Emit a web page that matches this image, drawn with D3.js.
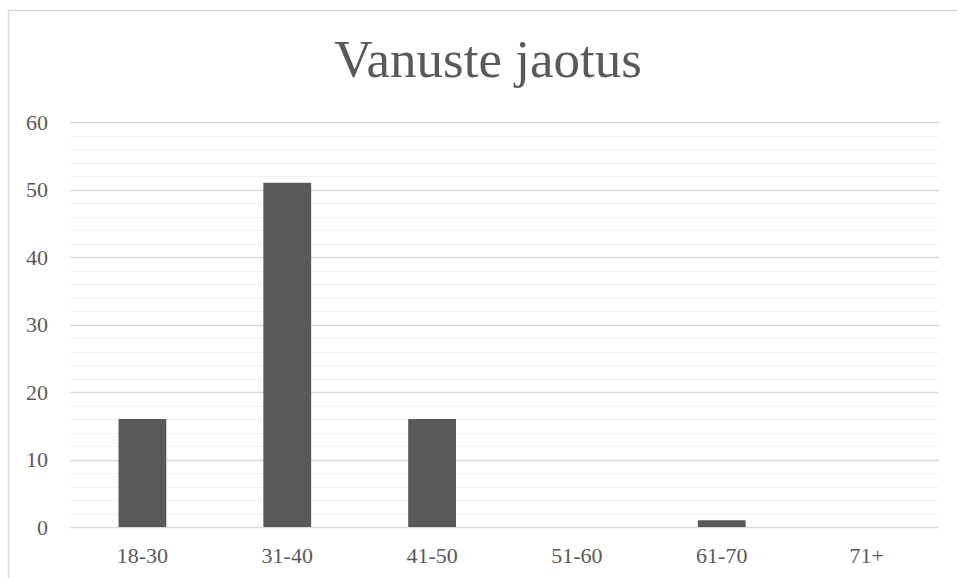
<!DOCTYPE html>
<html>
<head>
<meta charset="utf-8">
<script src="https://cdn.jsdelivr.net/npm/d3@7"></script>
<style>
  body { margin: 0; background: #fff; }
  text { font-family: "Liberation Serif", "Times New Roman", serif; fill: #595959; }
</style>
</head>
<body>
<script>
'use strict';

// age groups and counts
let categories = ['18-30', '31-40', '41-50', '51-60', '61-70', '71+'];
let counts = [16, 51, 16, 0, 1, 0];
let yTicks = [0, 10, 20, 30, 40, 50, 60];
let minorTicks = d3.range(0, 61, 2);
let title = 'Vanuste jaotus';

let svgWidth = 957, svgHeight = 578;
let margin = { top: 122, right: 18, bottom: 51, left: 70 };

let svg = d3.select('body').append('svg')
  .attr('width', svgWidth)
  .attr('height', svgHeight);

// chart frame (cut off at right and bottom like the original)
svg.append('rect')
  .attr('x', 8.5).attr('y', 10.5)
  .attr('width', 960).attr('height', 600)
  .attr('fill', 'none').attr('stroke', '#d9d9d9').attr('stroke-width', 1.5);

let xScale = d3.scaleBand()
  .domain(categories)
  .range([margin.left, svgWidth - margin.right])
  .paddingInner(0.67).paddingOuter(0.335);

let yScale = d3.scaleLinear()
  .domain([0, 60])
  .range([svgHeight - margin.bottom, margin.top]);

// minor grid
svg.append('g').selectAll('line').data(minorTicks.filter(d => d % 10 !== 0)).enter().append('line')
  .attr('x1', margin.left).attr('x2', svgWidth - margin.right)
  .attr('y1', d => Math.round(yScale(d)) + 0.5).attr('y2', d => Math.round(yScale(d)) + 0.5)
  .attr('stroke', '#f2f2f2').attr('stroke-width', 1.2);

// major grid
svg.append('g').selectAll('line').data(yTicks).enter().append('line')
  .attr('x1', margin.left).attr('x2', svgWidth - margin.right)
  .attr('y1', d => Math.round(yScale(d)) + 0.5).attr('y2', d => Math.round(yScale(d)) + 0.5)
  .attr('stroke', '#d9d9d9').attr('stroke-width', 1.3);

// y axis labels
let yAxis = svg.append('g')
  .attr('transform', `translate(${margin.left},0)`)
  .call(d3.axisLeft(yScale).tickValues(yTicks).tickSize(0).tickPadding(22));
yAxis.select('.domain').remove();
yAxis.selectAll('text').style('font-size', '22px').attr('fill', '#595959')
  .style('font-family', '"Liberation Serif", serif');

// x axis labels
let xAxis = svg.append('g')
  .attr('transform', `translate(0,${svgHeight - margin.bottom})`)
  .call(d3.axisBottom(xScale).tickSize(0).tickPadding(20));
xAxis.select('.domain').remove();
xAxis.selectAll('text').style('font-size', '22px').attr('fill', '#595959')
  .style('font-family', '"Liberation Serif", serif');

// bars
svg.append('g').selectAll('rect').data(categories).enter().append('rect')
  .attr('x', d => xScale(d))
  .attr('width', xScale.bandwidth())
  .attr('y', (d, i) => yScale(counts[i]))
  .attr('height', (d, i) => yScale(0) - yScale(counts[i]))
  .attr('fill', '#595959');

// title
svg.append('text')
  .attr('x', 488).attr('y', 77)
  .attr('text-anchor', 'middle')
  .style('font-size', '53px')
  .text(title);
</script>
</body>
</html>
